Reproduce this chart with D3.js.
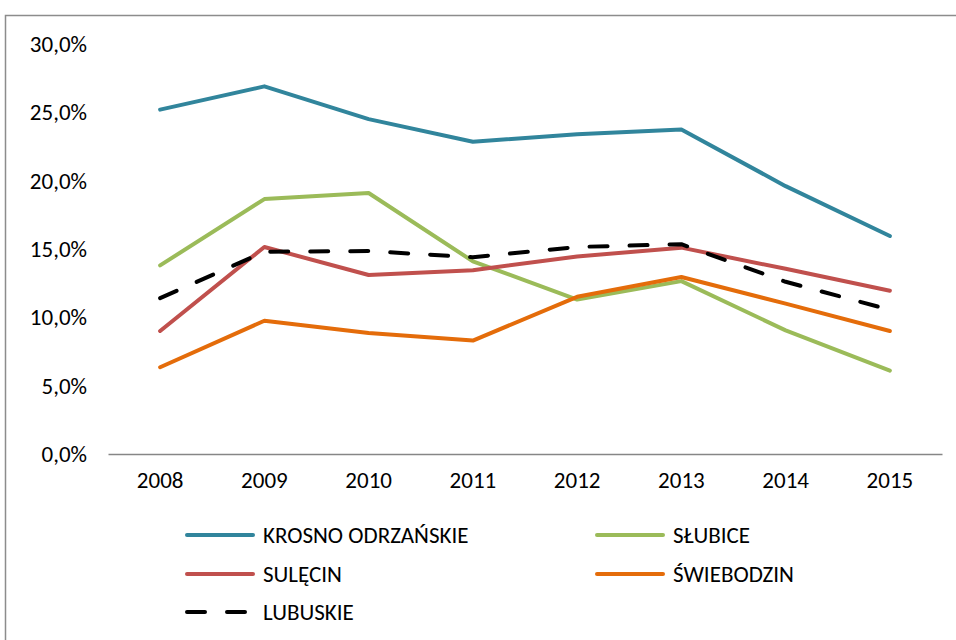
<!DOCTYPE html>
<html>
<head>
<meta charset="utf-8">
<script src="https://cdnjs.cloudflare.com/ajax/libs/d3/7.8.5/d3.min.js"></script>
<style>
	body { margin: 0; background: #fff; }
	svg text { font-family: Carlito, "Liberation Sans Narrow", "Liberation Sans", sans-serif; fill: #000; }
</style>
</head>
<body>
<div id="chart"></div>
<script>
var years = ['2008', '2009', '2010', '2011', '2012', '2013', '2014', '2015'];
var yTicks = [0, 5, 10, 15, 20, 25, 30];

var krosno = [25.2, 26.9, 24.5, 22.85, 23.4, 23.75, 19.6, 15.95];
var slubice = [13.8, 18.65, 19.1, 14.1, 11.3, 12.65, 9.05, 6.1];
var sulecin = [9.0, 15.15, 13.1, 13.45, 14.45, 15.1, 13.55, 11.95];
var swiebodzin = [6.35, 9.75, 8.85, 8.3, 11.5, 12.95, 11.0, 9.0];
var lubuskie = [11.4, 14.8, 14.85, 14.4, 15.15, 15.35, 12.6, 10.55];

var seriesNames = ['KROSNO ODRZAŃSKIE', 'SŁUBICE', 'SULĘCIN', 'ŚWIEBODZIN', 'LUBUSKIE'];
var seriesValues = [krosno, slubice, sulecin, swiebodzin, lubuskie];
var seriesColors = ['#31859C', '#9BBB59', '#C0504D', '#E46C0A', '#000000'];

var width = 956, height = 640;
var plot = { left: 108, right: 942, top: 44, bottom: 454 };

var svg = d3.select('#chart').append('svg')
	.attr('width', width)
	.attr('height', height);

// outer frame (runs off the right and bottom edge)
svg.append('rect')
	.attr('x', 5.5).attr('y', 15.5)
	.attr('width', 1000).attr('height', 700)
	.attr('fill', 'none')
	.attr('stroke', '#8c8c8c')
	.attr('stroke-width', 1.5);

var x = d3.scaleBand().domain(years).range([plot.left, plot.right]);
var y = d3.scaleLinear().domain([0, 30]).range([plot.bottom, plot.top]);

var fmt = function(d) { return d.toFixed(1).replace('.', ',') + '%'; };

// y labels
var yAxis = svg.append('g')
	.attr('transform', 'translate(' + plot.left + ',0)')
	.call(d3.axisLeft(y).tickValues(yTicks).tickFormat(fmt).tickSize(0).tickPadding(21));
yAxis.select('.domain').remove();
yAxis.selectAll('text').style('font-size', '23px');

// x axis
var xAxis = svg.append('g')
	.attr('transform', 'translate(0,' + plot.bottom + ')')
	.call(d3.axisBottom(x).tickSize(0).tickPadding(18));
xAxis.select('.domain').attr('stroke', '#868686').attr('stroke-width', 1.5);
xAxis.selectAll('text').style('font-size', '23px');

var line = d3.line()
	.x(function(d, i) { return x(years[i]) + x.bandwidth() / 2; })
	.y(function(d) { return y(d); });

seriesValues.forEach(function(vals, i) {
	svg.append('path')
		.datum(vals)
		.attr('d', line)
		.attr('fill', 'none')
		.attr('stroke', seriesColors[i])
		.attr('stroke-width', 4)
		.attr('stroke-linecap', 'round')
		.attr('stroke-linejoin', 'round')
		.attr('stroke-dasharray', i == 4 ? '18,22' : null);
});

// legend
var legendPos = [[185, 535], [595, 535], [185, 574], [595, 574], [185, 612]];
seriesNames.forEach(function(name, i) {
	var p = legendPos[i];
	svg.append('line')
		.attr('x1', p[0] + 2).attr('x2', p[0] + 68)
		.attr('y1', p[1]).attr('y2', p[1])
		.attr('stroke', seriesColors[i])
		.attr('stroke-width', 4)
		.attr('stroke-linecap', 'round')
		.attr('stroke-dasharray', i == 4 ? '18,22' : null);
	svg.append('text')
		.attr('x', p[0] + 78)
		.attr('y', p[1])
		.attr('dy', '0.35em')
		.style('font-size', '23px')
		.text(name);
});
</script>
</body>
</html>
